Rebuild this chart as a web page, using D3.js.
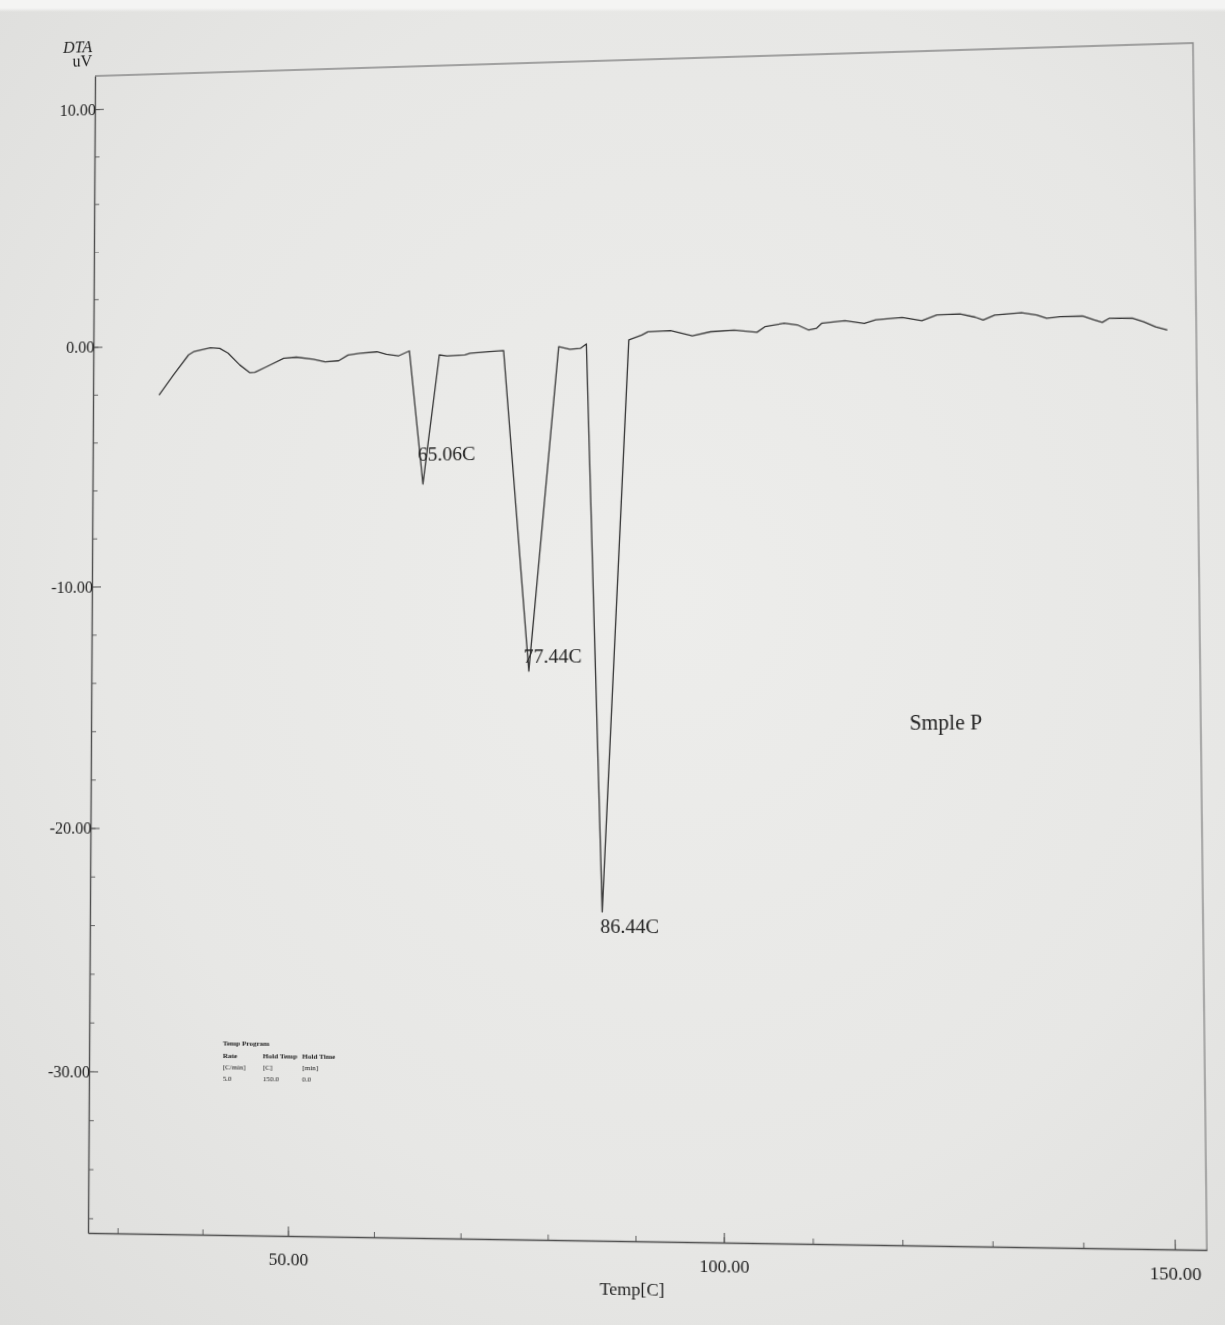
<!DOCTYPE html>
<html>
<head>
<meta charset="utf-8">
<script src="https://cdn.jsdelivr.net/npm/d3@7"></script>
<style>
  html, body { margin: 0; padding: 0; width: 1225px; height: 1325px; overflow: hidden; }
  body {
    background:
      linear-gradient(to bottom, #f4f4f3 0px, #f4f4f3 8px, rgba(0,0,0,0) 12px),
      radial-gradient(ellipse at 55% 45%, #ededeb 0%, #e7e7e5 60%, #dddddb 100%);
  }
  #chart { position: absolute; left: 0; top: 0; width: 1225px; height: 1325px; transform-origin: 0 0; }
  text { font-family: "Liberation Serif", "DejaVu Serif", serif; fill: #222; }
</style>
</head>
<body>
<div id="chart"></div>
<script>
// DTA trace: temperature [C] and signal [uV]
var tempC = [34.4, 36.1, 37.9, 38.5, 40.5, 41.6, 42.6, 44.0, 45.2, 45.8, 47.2, 49.2, 50.7, 52.7,
             54.1, 55.7, 56.8, 58.2, 60.2, 61.3, 62.7, 64.0, 65.6, 67.5, 68.4, 70.5, 71.1, 73.4,
             75.0, 77.9, 81.4, 82.7, 83.9, 84.6, 86.3, 89.5, 91.0, 91.7, 94.3, 96.8, 98.9, 101.6,
             104.2, 105.1, 107.3, 108.8, 110.1, 111.0, 111.6, 114.2, 116.4, 117.7, 120.7, 122.9,
             124.6, 127.2, 128.9, 129.8, 131.1, 134.1, 135.8, 136.9, 138.4, 140.9, 142.2, 143.1,
             143.9, 146.5, 147.7, 149.0, 150.3];
var dtaUV = [-2.06, -1.24, -0.41, -0.28, -0.13, -0.16, -0.37, -0.87, -1.20, -1.19, -0.96, -0.63, -0.59, -0.69,
             -0.81, -0.77, -0.54, -0.48, -0.43, -0.54, -0.62, -0.42, -5.92, -0.61, -0.66, -0.63, -0.56, -0.51,
             -0.48, -13.63, -0.36, -0.48, -0.45, -0.27, -23.40, -0.14, 0.05, 0.18, 0.21, -0.02, 0.13, 0.18,
             0.07, 0.29, 0.42, 0.34, 0.12, 0.19, 0.39, 0.47, 0.35, 0.48, 0.56, 0.41,
             0.63, 0.65, 0.51, 0.39, 0.58, 0.65, 0.55, 0.41, 0.46, 0.47, 0.30, 0.20,
             0.36, 0.34, 0.19, -0.02, -0.16];

var peakLabels = ["65.06C", "77.44C", "86.44C"];

var yLabelTicks = [10, 0, -10, -20, -30];
var xLabelTicks = [50, 100, 150];

var progHead = ["Rate", "Hold Temp", "Hold Time"];
var progUnit = ["[C/min]", "[C]", "[min]"];
var progVals = ["5.0", "150.0", "0.0"];

// ideal (flat) chart size, later bent to the photo's perspective
var margin = {top: 80, left: 100},
    width = 1050,
    height = 1135;

// plain hyphen like the instrument printout
var fmt = function(d) { return d3.format(".2f")(d).replace("\u2212", "-"); };

var svg = d3.select("#chart")
  .append("svg")
    .attr("width", 1225)
    .attr("height", 1325);

var g = svg.append("g")
    .attr("transform", "translate(" + margin.left + "," + margin.top + ")");

var x = d3.scaleLinear().domain([26.5, 153.5]).range([0, width]);
var y = d3.scaleLinear().domain([-36.6, 11.4]).range([height, 0]);

// frame top and right
g.append("path")
  .attr("d", "M0,0H" + width + "V" + height)
  .attr("fill", "none")
  .attr("stroke", "#8a8a8a")
  .attr("stroke-width", 1.3);

// Y axis: minor ticks every 2, labels every 10
g.append("g")
  .call(d3.axisLeft(y).tickValues(d3.range(-36, 11, 2)).tickSize(-5).tickFormat(""))
  .call(function(s) { s.select(".domain").remove(); s.selectAll("line").attr("stroke", "#666"); });

var yAx = g.append("g")
  .call(d3.axisLeft(y).tickValues(yLabelTicks).tickSizeInner(-9).tickSizeOuter(0).tickPadding(-1)
    .tickFormat(fmt));
yAx.select(".domain").attr("stroke", "#505050").attr("stroke-width", 1.4);
yAx.selectAll("line").attr("stroke", "#555");
yAx.selectAll("text").style("font-size", "16px").style("font-family", "Liberation Serif").attr("fill", "#222");

// X axis: ticks every 10, labels every 50
g.append("g")
  .attr("transform", "translate(0," + height + ")")
  .call(d3.axisBottom(x).tickValues(d3.range(30, 151, 10)).tickSize(-5).tickFormat(""))
  .call(function(s) { s.select(".domain").remove(); s.selectAll("line").attr("stroke", "#666"); });

var xAx = g.append("g")
  .attr("transform", "translate(0," + height + ")")
  .call(d3.axisBottom(x).tickValues(xLabelTicks).tickSizeInner(-9).tickSizeOuter(0).tickPadding(16)
    .tickFormat(fmt));
xAx.select(".domain").attr("stroke", "#505050").attr("stroke-width", 1.4);
xAx.selectAll("line").attr("stroke", "#555");
xAx.selectAll("text").style("font-size", "17px").style("font-family", "Liberation Serif").attr("fill", "#222");

// axis titles
g.append("text")
  .attr("x", -3).attr("y", -24)
  .attr("text-anchor", "end")
  .style("font-size", "16px").style("font-style", "italic")
  .text("DTA");
g.append("text")
  .attr("x", -3).attr("y", -10)
  .attr("text-anchor", "end")
  .style("font-size", "16px")
  .text("uV");
g.append("text")
  .attr("x", x(89.6)).attr("y", height + 51)
  .attr("text-anchor", "middle")
  .style("font-size", "17px")
  .text("Temp[C]");

// the trace
var pts = tempC.map(function(t, i) { return [t, dtaUV[i]]; });
g.append("path")
  .datum(pts)
  .attr("fill", "none")
  .attr("stroke", "#3a3a3a")
  .attr("stroke-width", 1.3)
  .attr("stroke-linejoin", "round")
  .attr("d", d3.line()
    .x(function(d) { return x(d[0]); })
    .y(function(d) { return y(d[1]); }));

// peak labels at the local minima
var peaks = pts.filter(function(d, i) {
  return d[1] < -3 && d[1] < pts[i - 1][1] && d[1] < pts[i + 1][1];
});
var labelOff = [[-5, -23], [-5, -8], [-2, 20]];
g.selectAll(".peak")
  .data(peaks)
  .enter().append("text")
    .attr("class", "peak")
    .attr("x", function(d, i) { return x(d[0]) + labelOff[i][0]; })
    .attr("y", function(d, i) { return y(d[1]) + labelOff[i][1]; })
    .style("font-size", "19px")
    .text(function(d, i) { return peakLabels[i]; });

// sample name
g.append("text")
  .attr("x", x(121.2)).attr("y", y(-16.1))
  .style("font-size", "20px")
  .text("Smple P");

// temperature program block
var prog = g.append("g")
  .attr("transform", "translate(" + x(42.3) + "," + y(-28.9) + ")")
  .style("font-size", "7px");
prog.append("text").attr("x", 0).attr("y", 0).style("font-weight", "bold").text("Temp Program");
var colX = [0, 39, 77];
[progHead, progUnit, progVals].forEach(function(row, r) {
  prog.selectAll(".r" + r)
    .data(row)
    .enter().append("text")
      .attr("x", function(d, i) { return colX[i]; })
      .attr("y", 12 + r * 11)
      .style("font-weight", r === 0 ? "bold" : "normal")
      .text(function(d) { return d; });
});

// bend the flat chart onto the photographed sheet (square-to-quad homography)
var corners = [[95, 76], [1193, 43], [1207, 1250], [88, 1233]];
function quadMatrix(q) {
  var x0 = q[0][0], y0 = q[0][1], x1 = q[1][0], y1 = q[1][1],
      x2 = q[2][0], y2 = q[2][1], x3 = q[3][0], y3 = q[3][1];
  var dx1 = x1 - x2, dx2 = x3 - x2, dx3 = x0 - x1 + x2 - x3,
      dy1 = y1 - y2, dy2 = y3 - y2, dy3 = y0 - y1 + y2 - y3;
  var den = dx1 * dy2 - dx2 * dy1;
  var gg = (dx3 * dy2 - dx2 * dy3) / den,
      hh = (dx1 * dy3 - dx3 * dy1) / den;
  var a = x1 - x0 + gg * x1, b = x3 - x0 + hh * x3, c = x0,
      d = y1 - y0 + gg * y1, e = y3 - y0 + hh * y3, f = y0;
  var W = width, H = height, mx = margin.left, my = margin.top;
  var r1 = [a / W, b / H, c - a * mx / W - b * my / H];
  var r2 = [d / W, e / H, f - d * mx / W - e * my / H];
  var r4 = [gg / W, hh / H, 1 - gg * mx / W - hh * my / H];
  return "matrix3d(" + [r1[0], r2[0], 0, r4[0],
                        r1[1], r2[1], 0, r4[1],
                        0, 0, 1, 0,
                        r1[2], r2[2], 0, r4[2]].join(",") + ")";
}
d3.select("#chart").style("transform", quadMatrix(corners));
</script>
</body>
</html>
